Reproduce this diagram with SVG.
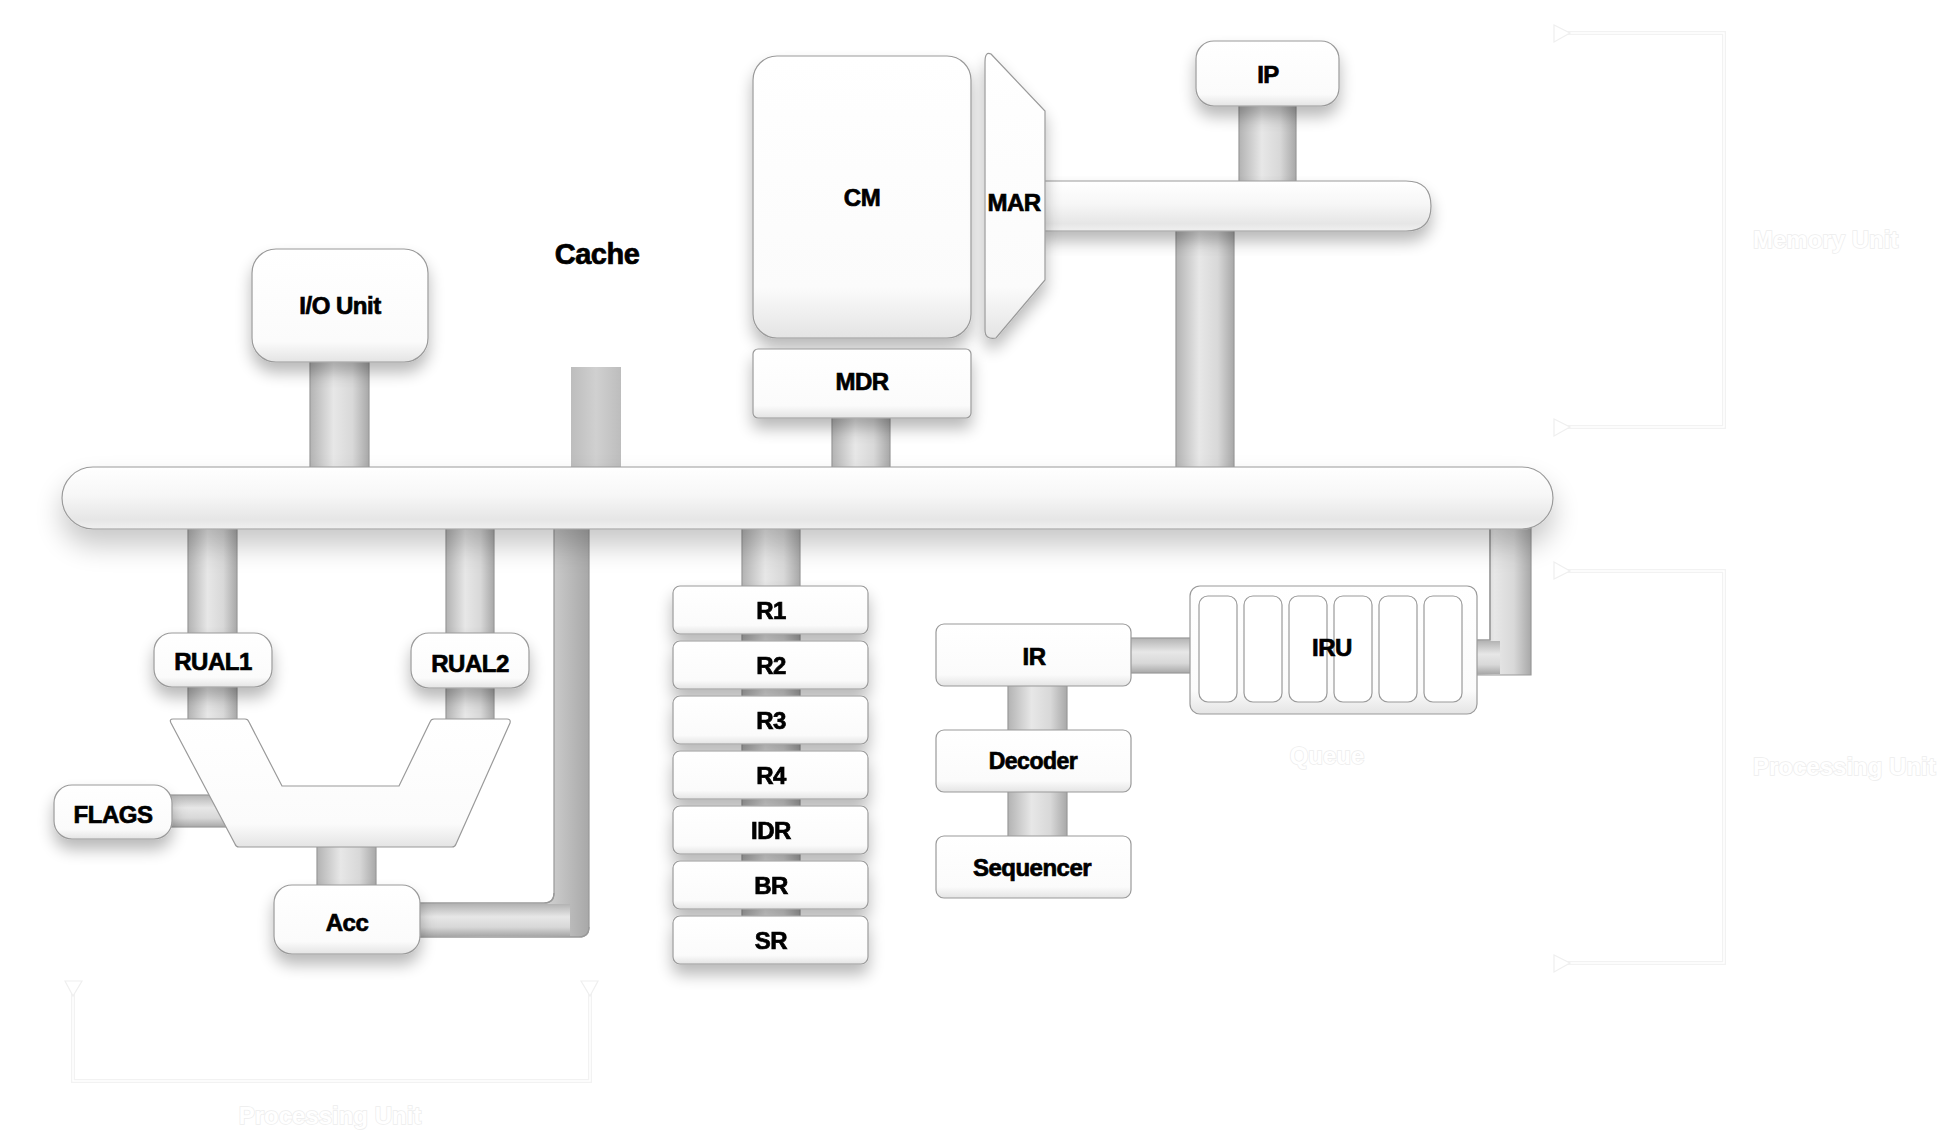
<svg xmlns="http://www.w3.org/2000/svg" width="1939" height="1137" viewBox="0 0 1939 1137">
<defs>
<style>
.node{fill:url(#gNode);stroke:#9a9a9a;stroke-width:1.2;filter:url(#sh)}
.nodeflat{fill:url(#gNode);stroke:#9a9a9a;stroke-width:1.2}
.bus{fill:url(#gBus);stroke:#9a9a9a;stroke-width:1.2}
.pv{fill:url(#gPV);stroke:#999;stroke-width:1.2}
.ph{fill:url(#gPH);stroke:#999;stroke-width:1.2}
.lbl{font-family:"Liberation Sans",Arial,sans-serif;font-weight:bold;font-size:24px;text-anchor:middle;fill:#000;stroke:#000;stroke-width:0.7px;letter-spacing:-0.5px}
.ghost{font-family:"Liberation Sans",Arial,sans-serif;font-weight:bold;font-size:24px;fill:#fff;stroke:#ededed;stroke-width:1.5;paint-order:stroke}
.brk{fill:none;stroke:#f2f2f2;stroke-width:4}
.brk2{fill:none;stroke:#fff;stroke-width:1.5}
.tick{fill:#fff;stroke:#efefef;stroke-width:1.2}
</style>
<linearGradient id="gNode" x1="0" y1="0" x2="0" y2="1">
<stop offset="0" stop-color="#ffffff"/><stop offset="0.82" stop-color="#fbfbfb"/><stop offset="1" stop-color="#e4e4e4"/>
</linearGradient>
<linearGradient id="gBus" x1="0" y1="0" x2="0" y2="1">
<stop offset="0" stop-color="#ffffff"/><stop offset="0.45" stop-color="#f7f7f7"/><stop offset="0.85" stop-color="#e6e6e6"/><stop offset="1" stop-color="#f0f0f0"/>
</linearGradient>
<linearGradient id="gPV" x1="0" y1="0" x2="1" y2="0">
<stop offset="0" stop-color="#b3b3b3"/><stop offset="0.4" stop-color="#e7e7e7"/><stop offset="0.72" stop-color="#d8d8d8"/><stop offset="1" stop-color="#a8a8a8"/>
</linearGradient>
<linearGradient id="gPH" x1="0" y1="0" x2="0" y2="1">
<stop offset="0" stop-color="#b3b3b3"/><stop offset="0.4" stop-color="#e7e7e7"/><stop offset="0.72" stop-color="#d8d8d8"/><stop offset="1" stop-color="#a8a8a8"/>
</linearGradient>
<linearGradient id="gCache" x1="0" y1="0" x2="1" y2="0">
<stop offset="0" stop-color="#bdbdbd"/><stop offset="0.5" stop-color="#d0d0d0"/><stop offset="1" stop-color="#bdbdbd"/>
</linearGradient>
<filter id="sh" x="-30%" y="-30%" width="160%" height="180%">
<feGaussianBlur in="SourceAlpha" stdDeviation="8"/><feOffset dy="10"/>
<feComponentTransfer><feFuncA type="linear" slope="0.28"/></feComponentTransfer>
<feMerge><feMergeNode/><feMergeNode in="SourceGraphic"/></feMerge>
</filter>
<filter id="shBus" x="-10%" y="-50%" width="120%" height="300%">
<feGaussianBlur in="SourceAlpha" stdDeviation="14"/><feOffset dy="16"/>
<feComponentTransfer><feFuncA type="linear" slope="0.22"/></feComponentTransfer>
<feMerge><feMergeNode/><feMergeNode in="SourceGraphic"/></feMerge>
</filter>
</defs>
<rect width="1939" height="1137" fill="#ffffff"/>

<g id="annotations">
<polyline class="brk" points="1562,33 1724,33 1724,427 1562,427"/>
<polyline class="brk2" points="1562,33 1724,33 1724,427 1562,427"/>
<polygon class="tick" points="1554,25 1554,42 1570,33"/>
<polygon class="tick" points="1554,419 1554,436 1570,427"/>
<text class="ghost" x="1753" y="248">Memory Unit</text>
<polyline class="brk" points="1562,571 1724,571 1724,963 1562,963"/>
<polyline class="brk2" points="1562,571 1724,571 1724,963 1562,963"/>
<polygon class="tick" points="1554,562 1554,579 1570,571"/>
<polygon class="tick" points="1554,955 1554,972 1570,963"/>
<text class="ghost" x="1753" y="775">Processing Unit</text>
<polyline class="brk" points="73,990 73,1081 590,1081 590,990"/>
<polyline class="brk2" points="73,990 73,1081 590,1081 590,990"/>
<polygon class="tick" points="65,981 82,981 73,996"/>
<polygon class="tick" points="581,981 598,981 590,996"/>
<text class="ghost" x="330" y="1124" text-anchor="middle">Processing Unit</text>
<text class="ghost" x="1327" y="764" text-anchor="middle">Queue</text>
</g>

<g id="connectors">
<rect class="pv" x="310" y="355" width="59" height="120"/>
<rect x="571" y="367" width="50" height="104" fill="url(#gCache)"/>
<rect class="pv" x="832" y="410" width="58" height="62"/>
<rect class="pv" x="1239" y="100" width="57" height="86"/>
<rect class="pv" x="1176" y="225" width="58" height="248"/>
<rect class="pv" x="188" y="520" width="49" height="205"/>
<rect class="pv" x="446" y="520" width="48" height="205"/>
<rect class="ph" x="160" y="795" width="75" height="32"/>
<rect class="pv" x="317" y="840" width="59" height="50"/>
<path class="pv" d="M554,520 L554,893 Q554,903 544,903 L410,903 L410,937 L579,937 Q589,937 589,927 L589,520 Z" fill="url(#gPV)"/>
<rect x="420" y="904" width="150" height="32" fill="url(#gPH)"/>
<path d="M554,893 Q554,903 544,903 L420,903 M420,937 L579,937 Q589,937 589,927" fill="none" stroke="#999" stroke-width="1.2"/>
<rect class="pv" x="742" y="520" width="58" height="400"/>
<rect class="pv" x="1008" y="680" width="59" height="160"/>
<rect class="ph" x="1125" y="638" width="70" height="35"/>
<path d="M1490,520 L1490,640 L1470,640 L1470,675 L1531,675 L1531,520 Z" fill="url(#gPV)" stroke="#999" stroke-width="1.2"/>
<rect x="1470" y="641" width="30" height="33" fill="url(#gPH)"/>
<path d="M1490,529 L1490,640 L1476,640" fill="none" stroke="#999" stroke-width="1.2"/>
<g id="bus">
<rect class="bus" x="62" y="467" width="1491" height="62" rx="31" ry="31" filter="url(#shBus)"/>
</g>
<g id="membus">
<path class="bus" d="M1040,181 L1406,181 Q1431,181 1431,206 Q1431,231 1406,231 L1040,231 Z" filter="url(#sh)"/>
</g>
</g>

<g id="io"><rect class="node" x="252" y="249" width="176" height="113" rx="24"/><text class="lbl" x="340" y="314">I/O Unit</text></g>
<g id="cache"><text class="lbl" x="597" y="264" style="font-size:29px">Cache</text></g>
<g id="cm"><rect class="node" x="753" y="56" width="218" height="282" rx="24"/><text class="lbl" x="862" y="206">CM</text></g>
<g id="mar"><path class="node" d="M991,54 L1045,111 L1045,280 L996,338 Q985,340 985,330 L985,62 Q985,51 991,54 Z"/><text class="lbl" x="1014" y="211">MAR</text></g>
<g id="mdr"><rect class="node" x="753" y="349" width="218" height="69" rx="5"/><text class="lbl" x="862" y="390">MDR</text></g>
<g id="ip"><rect class="node" x="1196" y="41" width="143" height="65" rx="18"/><text class="lbl" x="1268" y="83">IP</text></g>
<g id="rual1"><rect class="node" x="154" y="633" width="118" height="54" rx="18"/><text class="lbl" x="213" y="670">RUAL1</text></g>
<g id="rual2"><rect class="node" x="411" y="633" width="118" height="55" rx="18"/><text class="lbl" x="470" y="672">RUAL2</text></g>
<g id="alu"><path class="nodeflat" d="M173,719 L245,719 Q248,719 249,722 L282,786 L399,786 L430,722 Q431,719 434,719 L507,719 Q511,719 510,723 L456,844 Q455,847 452,847 L239,847 Q236,847 235,844 L171,723 Q169,719 173,719 Z"/></g>
<g id="flags"><rect class="node" x="54" y="785" width="118" height="54" rx="18"/><text class="lbl" x="113" y="823">FLAGS</text></g>
<g id="acc"><rect class="node" x="274" y="885" width="146" height="69" rx="18"/><text class="lbl" x="347" y="931">Acc</text></g>
<g id="regs" filter="url(#sh)">
<g id="r1"><rect class="nodeflat" x="673" y="586" width="195" height="48" rx="7"/><text class="lbl" x="771" y="619">R1</text></g>
<g id="r2"><rect class="nodeflat" x="673" y="641" width="195" height="48" rx="7"/><text class="lbl" x="771" y="674">R2</text></g>
<g id="r3"><rect class="nodeflat" x="673" y="696" width="195" height="48" rx="7"/><text class="lbl" x="771" y="729">R3</text></g>
<g id="r4"><rect class="nodeflat" x="673" y="751" width="195" height="48" rx="7"/><text class="lbl" x="771" y="784">R4</text></g>
<g id="idr"><rect class="nodeflat" x="673" y="806" width="195" height="48" rx="7"/><text class="lbl" x="771" y="839">IDR</text></g>
<g id="br"><rect class="nodeflat" x="673" y="861" width="195" height="48" rx="7"/><text class="lbl" x="771" y="894">BR</text></g>
<g id="sr"><rect class="nodeflat" x="673" y="916" width="195" height="48" rx="7"/><text class="lbl" x="771" y="949">SR</text></g>
</g>
<g id="ir"><rect class="nodeflat" x="936" y="624" width="195" height="62" rx="8"/><text class="lbl" x="1034" y="665">IR</text></g>
<g id="decoder"><rect class="nodeflat" x="936" y="730" width="195" height="62" rx="8"/><text class="lbl" x="1033" y="769" style="font-size:23px">Decoder</text></g>
<g id="sequencer"><rect class="nodeflat" x="936" y="836" width="195" height="62" rx="8"/><text class="lbl" x="1032" y="876">Sequencer</text></g>
<g id="iru">
<rect class="nodeflat" x="1190" y="586" width="287" height="128" rx="10"/>
<g fill="#fff" stroke="#9a9a9a" stroke-width="1.2">
<rect x="1199" y="596" width="38" height="106" rx="9"/>
<rect x="1244" y="596" width="38" height="106" rx="9"/>
<rect x="1289" y="596" width="38" height="106" rx="9"/>
<rect x="1334" y="596" width="38" height="106" rx="9"/>
<rect x="1379" y="596" width="38" height="106" rx="9"/>
<rect x="1424" y="596" width="38" height="106" rx="9"/>
</g>
<text class="lbl" x="1332" y="656">IRU</text>
</g>
</svg>
